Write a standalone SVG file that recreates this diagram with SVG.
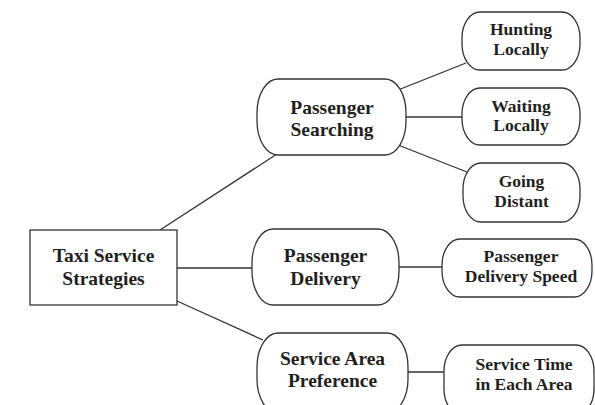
<svg xmlns="http://www.w3.org/2000/svg" width="595" height="405" viewBox="0 0 595 405">
  <style>
    .box { fill: #ffffff; stroke: #333333; stroke-width: 1.3; }
    .link { stroke: #333333; stroke-width: 1.3; fill: none; }
    .t { font-family: "Liberation Serif", "Times New Roman", serif; font-weight: bold; fill: #231f20; text-anchor: middle; }
    .big { font-size: 19.5px; }
    .small { font-size: 17.5px; }
  </style>
  <rect width="595" height="405" fill="#ffffff"/>

  <!-- connectors -->
  <g id="connectors">
    <line class="link" x1="160" y1="230" x2="277" y2="154"/>
    <line class="link" x1="177" y1="268" x2="252" y2="268"/>
    <line class="link" x1="177" y1="301" x2="263" y2="340"/>
    <line class="link" x1="398" y1="90" x2="466" y2="63"/>
    <line class="link" x1="406" y1="117" x2="462" y2="117"/>
    <line class="link" x1="398" y1="145" x2="467" y2="172"/>
    <line class="link" x1="399" y1="267" x2="442" y2="267"/>
    <line class="link" x1="408" y1="372" x2="444" y2="372"/>
  </g>

  <!-- root -->
  <g id="taxi-service-strategies">
    <rect class="box" x="30" y="230" width="147" height="75"/>
    <text class="t big" x="103.5" y="262">Taxi Service</text>
    <text class="t big" x="103.5" y="285">Strategies</text>
  </g>

  <!-- second level -->
  <g id="passenger-searching">
    <rect class="box" x="257" y="79" width="149" height="76" rx="21" ry="34"/>
    <text class="t big" x="332" y="114">Passenger</text>
    <text class="t big" x="332" y="136">Searching</text>
  </g>
  <g id="passenger-delivery">
    <rect class="box" x="252" y="229" width="147" height="76" rx="21" ry="34"/>
    <text class="t big" x="325.5" y="262">Passenger</text>
    <text class="t big" x="325.5" y="285">Delivery</text>
  </g>
  <g id="service-area-preference">
    <rect class="box" x="257" y="333" width="151" height="80" rx="21" ry="34"/>
    <text class="t big" x="332.5" y="365">Service Area</text>
    <text class="t big" x="332.5" y="387">Preference</text>
  </g>

  <!-- leaves -->
  <g id="hunting-locally">
    <rect class="box" x="462" y="12" width="118" height="58" rx="18" ry="26"/>
    <text class="t small" x="521" y="35">Hunting</text>
    <text class="t small" x="521" y="55">Locally</text>
  </g>
  <g id="waiting-locally">
    <rect class="box" x="462" y="88" width="118" height="57" rx="18" ry="26"/>
    <text class="t small" x="521" y="112">Waiting</text>
    <text class="t small" x="521" y="131">Locally</text>
  </g>
  <g id="going-distant">
    <rect class="box" x="463" y="163" width="117" height="59" rx="18" ry="26"/>
    <text class="t small" x="521.5" y="187">Going</text>
    <text class="t small" x="521.5" y="207">Distant</text>
  </g>
  <g id="passenger-delivery-speed">
    <rect class="box" x="442" y="239" width="150" height="58" rx="18" ry="26"/>
    <text class="t small" x="521" y="262">Passenger</text>
    <text class="t small" x="521" y="282">Delivery Speed</text>
  </g>
  <g id="service-time-in-each-area">
    <rect class="box" x="444" y="345" width="150" height="70" rx="18" ry="26"/>
    <text class="t small" x="524" y="370">Service Time</text>
    <text class="t small" x="524" y="390">in Each Area</text>
  </g>
</svg>
